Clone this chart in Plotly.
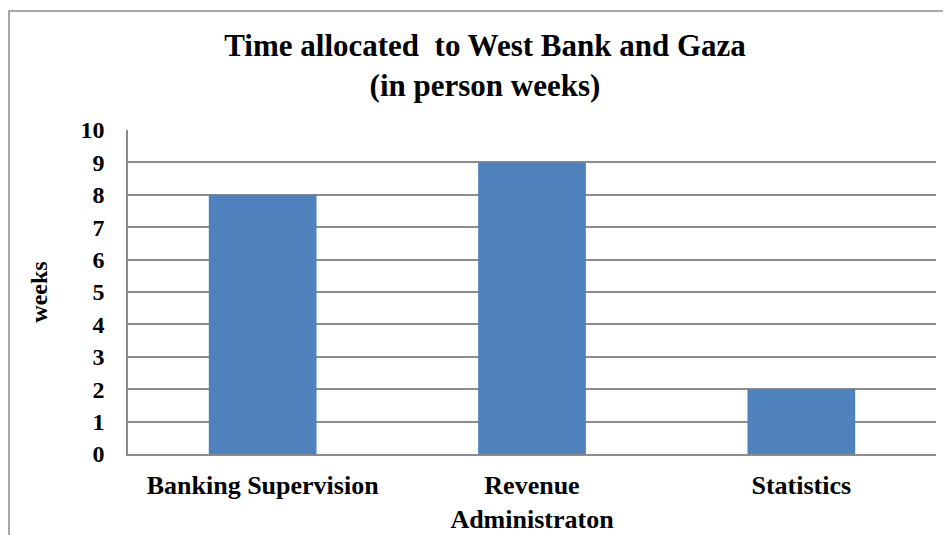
import plotly.graph_objects as go

categories = ["Banking Supervision", "Revenue<br>Administraton", "Statistics"]
weeks = [8, 9, 2]
y_ticks = list(range(0, 11))

# the page body has an 8px margin, so the figure is drawn 8px in from the page corner
W, H = 943, 527
L, R, T, B = 120, 15, 122, 81
pw, ph = W - L - R, H - T - B

fig = go.Figure(go.Bar(x=categories, y=weeks, marker=dict(color="#4F81BD", line=dict(width=0)), width=0.4))

font = "Liberation Serif"
fig.update_layout(
    width=W, height=H,
    margin=dict(l=L, r=R, t=T, b=B, autoexpand=False),
    paper_bgcolor="white", plot_bgcolor="white",
    font=dict(family=font, color="black", weight="bold"),
    title=dict(text="Time allocated  to West Bank and Gaza<br>(in person weeks)",
               x=477 / W, xanchor="center", y=1 - 48 / H, yanchor="top",
               font=dict(size=31, family=font, weight="bold", color="black")),
    showlegend=False,
    bargap=0.6,
)
fig.update_yaxes(range=[0, 10], tickvals=y_ticks, showgrid=True, gridcolor="#8c8c8c", gridwidth=1.5,
                 showline=True, linecolor="#8c8c8c", linewidth=1.5, ticks="", automargin=False,
                 tickfont=dict(size=24, family=font, weight="bold", color="black"), ticklabelstandoff=17,
                 title=dict(text="weeks", font=dict(size=24, family=font, weight="bold", color="black"), standoff=26),
                 zeroline=False)
fig.update_xaxes(showline=True, linecolor="#8c8c8c", linewidth=1.5, ticks="", automargin=False,
                 tickfont=dict(size=26, family=font, weight="bold", color="black"), ticklabelstandoff=7)

# outer chart border (left and top edges visible, others run off the page)
fig.add_shape(type="rect", xref="paper", yref="paper",
              x0=(1 - L) / pw, x1=(W + 20 - L) / pw,
              y0=-(H + 20 - T - ph) / ph, y1=1 + (T - 3) / ph,
              line=dict(color="#8c8c8c", width=1.5), fillcolor="rgba(0,0,0,0)", layer="below")

fig.write_html("out.html")
